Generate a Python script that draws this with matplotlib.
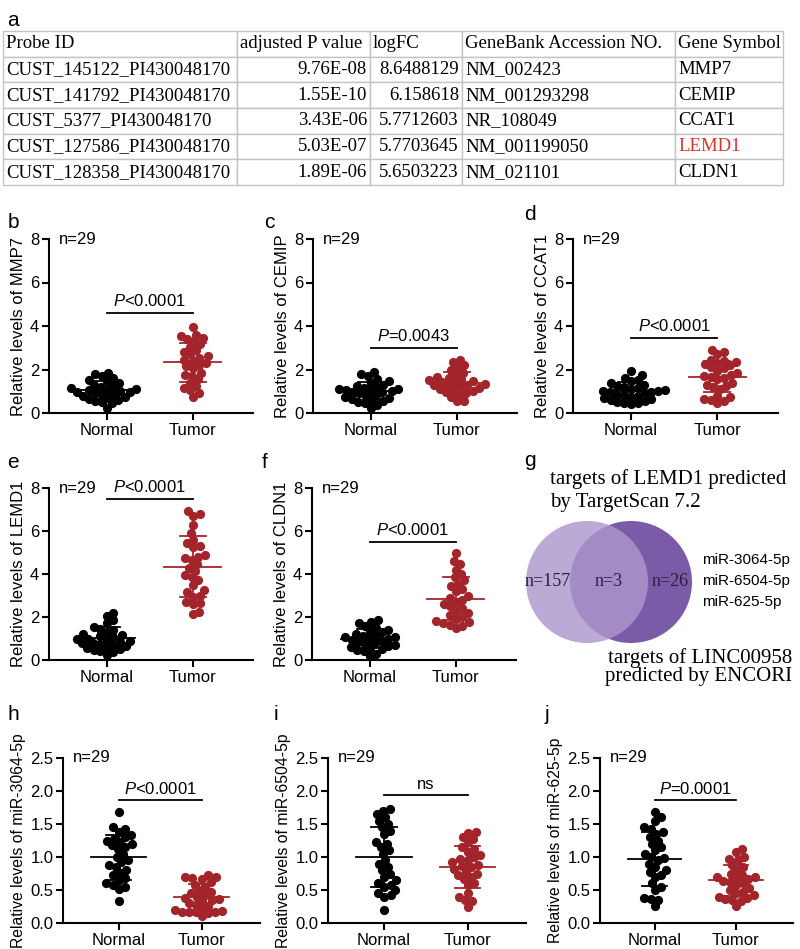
import numpy as np
import matplotlib
matplotlib.use('Agg')
from matplotlib import pyplot as plt
from matplotlib.patches import Circle

plt.rcParams['font.family'] = ['Liberation Sans', 'DejaVu Sans']
plt.rcParams['mathtext.fontset'] = 'custom'
plt.rcParams['mathtext.rm'] = 'Liberation Sans'
plt.rcParams['mathtext.it'] = 'Liberation Sans:italic'

# ---- table a ----
table_header = ['Probe ID', 'adjusted P value', 'logFC', 'GeneBank Accession NO.', 'Gene Symbol']
probe_ids = ['CUST_145122_PI430048170', 'CUST_141792_PI430048170', 'CUST_5377_PI430048170',
             'CUST_127586_PI430048170', 'CUST_128358_PI430048170']
adj_p = ['9.76E-08', '1.55E-10', '3.43E-06', '5.03E-07', '1.89E-06']
log_fc = ['8.6488129', '6.158618', '5.7712603', '5.7703645', '5.6503223']
accession = ['NM_002423', 'NM_001293298', 'NR_108049', 'NM_001199050', 'NM_021101']
gene_symbol = ['MMP7', 'CEMIP', 'CCAT1', 'LEMD1', 'CLDN1']

# ---- dot plots b-f (Normal / Tumor, n=29) ----
b_normal = [1.85, 1.78, 1.7, 1.6, 1.5, 1.45, 1.38, 1.3, 1.25, 1.2, 1.15, 1.1, 1.08, 1.05, 1.0,
            0.98, 0.95, 0.9, 0.88, 0.85, 0.8, 0.75, 0.7, 0.65, 0.6, 0.55, 0.5, 0.45, 0.25]
b_tumor = [3.97, 3.6, 3.55, 3.45, 3.4, 3.3, 3.15, 3.05, 2.9, 2.8, 2.7, 2.6, 2.55, 2.45, 2.4,
           2.3, 2.2, 2.15, 2.05, 1.85, 1.75, 1.7, 1.55, 1.4, 1.25, 1.15, 1.05, 0.9, 0.75]
c_normal = [1.9, 1.8, 1.7, 1.55, 1.45, 1.4, 1.3, 1.25, 1.2, 1.15, 1.12, 1.1, 1.08, 1.05, 1.0,
            0.98, 0.95, 0.9, 0.85, 0.8, 0.75, 0.7, 0.65, 0.6, 0.55, 0.5, 0.45, 0.35, 0.25]
c_tumor = [2.45, 2.35, 2.2, 2.1, 2.0, 1.85, 1.75, 1.65, 1.6, 1.55, 1.5, 1.45, 1.42, 1.4, 1.35,
           1.3, 1.28, 1.25, 1.2, 1.15, 1.1, 1.05, 1.0, 0.95, 0.9, 0.85, 0.75, 0.55, 0.55]
d_normal = [1.95, 1.75, 1.6, 1.5, 1.45, 1.4, 1.3, 1.25, 1.2, 1.15, 1.1, 1.05, 1.02, 1.0, 0.98,
            0.95, 0.9, 0.85, 0.82, 0.8, 0.75, 0.7, 0.65, 0.6, 0.55, 0.5, 0.48, 0.45, 0.4]
d_tumor = [2.88, 2.8, 2.7, 2.45, 2.4, 2.35, 2.3, 2.25, 2.2, 2.1, 2.05, 1.95, 1.85, 1.75, 1.7,
           1.65, 1.6, 1.55, 1.4, 1.3, 1.25, 1.2, 1.1, 0.8, 0.75, 0.65, 0.6, 0.55, 0.45]
e_normal = [2.2, 2.05, 1.85, 1.7, 1.55, 1.45, 1.4, 1.3, 1.2, 1.15, 1.1, 1.05, 1.0, 0.98, 0.95,
            0.9, 0.85, 0.8, 0.78, 0.75, 0.7, 0.65, 0.6, 0.55, 0.5, 0.45, 0.4, 0.35, 0.25]
e_tumor = [6.92, 6.78, 6.7, 6.3, 5.9, 5.6, 5.45, 5.3, 5.25, 4.9, 4.8, 4.75, 4.65, 4.45, 4.3,
           4.15, 3.95, 3.85, 3.7, 3.5, 3.25, 3.15, 3.0, 2.95, 2.7, 2.65, 2.6, 2.25, 2.15]
f_normal = [1.85, 1.75, 1.7, 1.6, 1.5, 1.4, 1.35, 1.3, 1.2, 1.15, 1.1, 1.08, 1.05, 1.0, 0.98,
            0.95, 0.9, 0.85, 0.8, 0.75, 0.7, 0.65, 0.6, 0.55, 0.5, 0.45, 0.4, 0.3, 0.2]
f_tumor = [4.97, 4.6, 4.45, 4.2, 4.0, 3.85, 3.7, 3.55, 3.45, 3.3, 3.2, 3.0, 2.9, 2.8, 2.7,
           2.6, 2.5, 2.4, 2.3, 2.2, 2.1, 2.0, 1.9, 1.8, 1.75, 1.7, 1.65, 1.6, 1.5]

# ---- dot plots h-j ----
h_normal = [1.68, 1.45, 1.43, 1.38, 1.34, 1.3, 1.28, 1.25, 1.22, 1.2, 1.18, 1.15, 1.12, 1.05, 1.0,
            0.95, 0.92, 0.88, 0.85, 0.8, 0.76, 0.72, 0.68, 0.65, 0.6, 0.58, 0.55, 0.52, 0.33]
h_tumor = [0.72, 0.7, 0.69, 0.68, 0.66, 0.62, 0.58, 0.55, 0.5, 0.47, 0.45, 0.43, 0.4, 0.38, 0.36,
           0.35, 0.33, 0.3, 0.28, 0.26, 0.22, 0.2, 0.18, 0.17, 0.17, 0.16, 0.16, 0.15, 0.1]
i_normal = [1.73, 1.7, 1.65, 1.6, 1.55, 1.5, 1.45, 1.4, 1.35, 1.22, 1.2, 1.15, 1.1, 1.05, 0.95,
            0.9, 0.85, 0.8, 0.75, 0.7, 0.65, 0.6, 0.58, 0.55, 0.5, 0.45, 0.42, 0.4, 0.2]
i_tumor = [1.38, 1.37, 1.3, 1.28, 1.22, 1.15, 1.12, 1.08, 1.03, 1.0, 0.97, 0.95, 0.92, 0.88, 0.87,
           0.85, 0.82, 0.78, 0.75, 0.73, 0.7, 0.67, 0.6, 0.58, 0.45, 0.4, 0.35, 0.33, 0.25]
j_normal = [1.68, 1.6, 1.55, 1.45, 1.42, 1.38, 1.35, 1.3, 1.25, 1.2, 1.15, 1.1, 1.05, 1.0, 0.98,
            0.95, 0.9, 0.85, 0.8, 0.78, 0.72, 0.7, 0.6, 0.55, 0.5, 0.38, 0.36, 0.35, 0.26]
j_tumor = [1.12, 1.08, 1.0, 0.97, 0.95, 0.88, 0.85, 0.8, 0.75, 0.72, 0.7, 0.7, 0.68, 0.66, 0.64,
           0.62, 0.6, 0.57, 0.53, 0.5, 0.47, 0.45, 0.42, 0.4, 0.38, 0.36, 0.35, 0.34, 0.26]

groups = ['Normal', 'Tumor']
p_texts = {'b': '<0.0001', 'c': '=0.0043', 'd': '<0.0001', 'e': '<0.0001', 'f': '<0.0001',
           'h': '<0.0001', 'i': None, 'j': '=0.0001'}

# ---- venn g ----
venn_counts = [157, 3, 26]
mirnas = ['miR-3064-5p', 'miR-6504-5p', 'miR-625-5p']

RED = '#a3242a'
W, H = 800, 949
fig = plt.figure(figsize=(W / 100, H / 100), dpi=100)


def px_axes(x0, y0, x1, y1):
    return fig.add_axes([x0 / W, 1 - y1 / H, (x1 - x0) / W, (y1 - y0) / H])


def swarm_x(ax, xc, vals, d):
    # simple beeswarm in pixel space
    pts = ax.transData.transform(np.column_stack([np.full(len(vals), xc), vals]))
    ys = pts[:, 1]
    offs = np.zeros(len(vals))
    placed = []
    for k in np.argsort(ys):
        y = ys[k]
        cands = [0.0]
        for px_, py_ in placed:
            dy = y - py_
            if abs(dy) < d:
                dx = np.sqrt(d * d - dy * dy)
                cands += [px_ + dx, px_ - dx]
        cands.sort(key=abs)
        for c in cands:
            if all((c - px_) ** 2 + (y - py_) ** 2 >= d * d - 1e-6 for px_, py_ in placed):
                offs[k] = c
                break
        placed.append((offs[k], y))
    back = ax.transData.inverted().transform(np.column_stack([pts[:, 0] + offs, ys]))
    return back[:, 0]


def dot_panel(box, normal, tumor, ylabel, ylim, yticks, fmt, ptxt, pline_y, lab_fs=12):
    ax = px_axes(*box)
    ax.set_xlim(0.33, 2.7)
    ax.set_ylim(*ylim)
    for k, (vals, col) in enumerate([(normal, 'black'), (tumor, RED)]):
        xc = k + 1
        xs = swarm_x(ax, xc, vals, 7.0)
        ax.scatter(xs, vals, s=44, color=col, zorder=3, linewidths=0)
        m = np.mean(vals)
        sd = np.std(vals, ddof=1)
        ax.plot([xc - 0.33, xc + 0.33], [m, m], color=col, lw=1.3, zorder=4)
        ax.plot([xc, xc], [m - sd, m + sd], color=col, lw=1.3, zorder=4)
        for yy in (m - sd, m + sd):
            ax.plot([xc - 0.15, xc + 0.15], [yy, yy], color=col, lw=1.3, zorder=4)
    ax.plot([1, 2], [pline_y, pline_y], color='black', lw=1.3)
    span = ylim[1] - ylim[0]
    if ptxt is None:
        ax.text(1.5, pline_y + span * 0.02, 'ns', ha='center', va='bottom', fontsize=12)
    else:
        ax.text(1.5, pline_y + span * 0.02, r'$\mathit{P}$' + ptxt, ha='center', va='bottom',
                fontsize=12)
    ax.text(0.05, 1.0, 'n=29', transform=ax.transAxes, ha='left', va='center', fontsize=12)
    ax.set_xticks([1, 2])
    ax.set_xticklabels(groups, fontsize=12)
    ax.set_yticks(yticks)
    ax.set_yticklabels([fmt.format(t) for t in yticks], fontsize=12)
    ax.set_ylabel(ylabel, fontsize=lab_fs, labelpad=3)
    for s in ('top', 'right'):
        ax.spines[s].set_visible(False)
    for s in ('left', 'bottom'):
        ax.spines[s].set_linewidth(1.5)
    ax.tick_params(width=1.5, length=5, pad=2)
    return ax


# table
tax = px_axes(3, 31, 783, 185)
tax.axis('off')
cells = [list(r) for r in zip(probe_ids, adj_p, log_fc, accession, gene_symbol)]
col_px = [234, 133, 92, 213, 108]
tbl = tax.table(cellText=cells, colLabels=table_header, colWidths=[c / sum(col_px) for c in col_px],
                bbox=[0, 0, 1, 1], cellLoc='left', colLoc='left')
tbl.auto_set_font_size(False)
for (r, c), cell in tbl.get_celld().items():
    cell.set_edgecolor('#c4c4c4')
    cell.set_linewidth(1.0)
    cell.PAD = 3.0 / col_px[c]
    t = cell.get_text()
    t.set_fontfamily('Liberation Serif')
    t.set_fontsize(13.5)
    if r > 0 and c in (1, 2):
        t.set_horizontalalignment('right')
    if r > 0 and c == 4 and gene_symbol[r - 1] == 'LEMD1':
        t.set_color('#d8362c')

# panels b-f
dot_panel((49, 239, 253, 413), b_normal, b_tumor, 'Relative levels of MMP7', (0, 8), [0, 2, 4, 6, 8], '{:g}', p_texts['b'], 4.6)
dot_panel((313, 239, 517, 413), c_normal, c_tumor, 'Relative levels of CEMIP', (0, 8), [0, 2, 4, 6, 8], '{:g}', p_texts['c'], 3.0)
dot_panel((573, 239, 778, 413), d_normal, d_tumor, 'Relative levels of CCAT1', (0, 8), [0, 2, 4, 6, 8], '{:g}', p_texts['d'], 3.45)
dot_panel((49, 488, 253, 660), e_normal, e_tumor, 'Relative levels of LEMD1', (0, 8), [0, 2, 4, 6, 8], '{:g}', p_texts['e'], 7.5)
dot_panel((312, 488, 516, 660), f_normal, f_tumor, 'Relative levels of CLDN1', (0, 8), [0, 2, 4, 6, 8], '{:g}', p_texts['f'], 5.5)

# panels h-j
yt = [0, 0.5, 1.0, 1.5, 2.0, 2.5]
dot_panel((63, 758, 260, 923), h_normal, h_tumor, 'Relative levels of miR-3064-5p', (0, 2.5), yt, '{:.1f}', p_texts['h'], 1.86, 11.3)
dot_panel((328, 758, 526, 923), i_normal, i_tumor, 'Relative levels of miR-6504-5p', (0, 2.5), yt, '{:.1f}', p_texts['i'], 1.94, 11.3)
dot_panel((600, 758, 793, 923), j_normal, j_tumor, 'Relative levels of miR-625-5p', (0, 2.5), yt, '{:.1f}', p_texts['j'], 1.86, 11.3)

# venn g
vax = px_axes(500, 470, 800, 700)
vax.set_xlim(500, 800)
vax.set_ylim(700, 470)
vax.axis('off')
r = 61
cl, cr, cy = 587, 631, 582
vax.add_patch(Circle((cr, cy), r, color='#7b5aa8', lw=0))
vax.add_patch(Circle((cl, cy), r, color='#ad97cd', alpha=0.82, lw=0))
vtxt = dict(family='Liberation Serif', fontsize=13, color='#2a1f3d', ha='center', va='center')
vax.text((cl - r + cr - r) / 2, cy, 'n=%d' % venn_counts[0], **vtxt)
vax.text((cr - r + cl + r) / 2, cy, 'n=%d' % venn_counts[1], **vtxt)
vax.text((cl + r + cr + r) / 2, cy, 'n=%d' % venn_counts[2], **vtxt)
for k, m in enumerate(mirnas):
    fig.text(702 / W, 1 - (560 + 21 * k) / H, m, fontsize=11, ha='left', va='center')
serif = dict(family='Liberation Serif', fontsize=15)
fig.text(550 / W, 1 - 479 / H, 'targets of LEMD1 predicted', ha='left', va='center', **serif)
fig.text(550 / W, 1 - 503 / H, 'by TargetScan 7.2', ha='left', va='center', **serif)
fig.text(792 / W, 1 - 658 / H, 'targets of LINC00958', ha='right', va='center', **serif)
fig.text(792 / W, 1 - 676 / H, 'predicted by ENCORI', ha='right', va='center', **serif)

# panel letters
letters = {'a': (13, 20), 'b': (13, 222), 'c': (269, 222), 'd': (530, 215), 'e': (13, 462),
           'f': (265, 462), 'g': (530, 460), 'h': (13, 715), 'i': (276, 715), 'j': (547, 715)}
for lt, (x, y) in letters.items():
    fig.text(x / W, 1 - y / H, lt, fontsize=15, ha='center', va='center')

fig.savefig('out.png', dpi=100)
